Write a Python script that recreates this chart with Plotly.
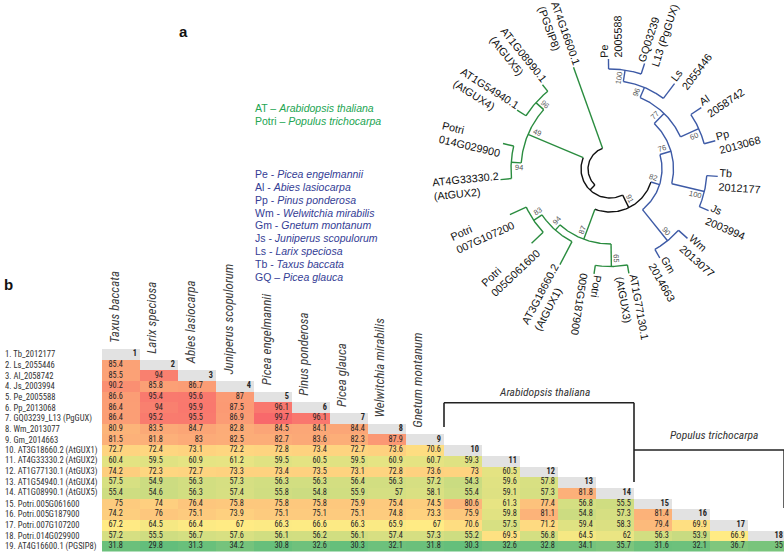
import math
import numpy as np
import plotly.graph_objects as go

W, H = 784, 552

# ---------------- panel b : identity matrix data ----------------
row_labels = ["1. Tb_2012177", "2. Ls_2055446", "3. Al_2058742", "4. Js_2003994",
              "5. Pe_2005588", "6. Pp_2013068", "7. GQ03239_L13 (PgGUX)", "8. Wm_2013077",
              "9. Gm_2014663", "10. AT3G18660.2 (AtGUX1)", "11. AT4G33330.2 (AtGUX2)",
              "12. AT1G77130.1 (AtGUX3)", "13. AT1G54940.1 (AtGUX4)", "14. AT1G08990.1 (AtGUX5)",
              "15. Potri.005G061600", "16. Potri.005G187900", "17. Potri.007G107200",
              "18. Potri.014G029900", "19. AT4G16600.1 (PGSIP8)"]
col_headers = ["Taxus baccata", "Larix speciosa", "Abies lasiocarpa", "Juniperus scopulorum",
               "Picea engelmannii", "Pinus ponderosa", "Picea glauca", "Welwitchia mirabilis",
               "Gnetum montanum"]
identity = [
    [],
    [85.4],
    [85.5, 94],
    [90.2, 85.8, 86.7],
    [86.6, 95.4, 95.6, 87],
    [86.4, 94, 95.9, 87.5, 96.1],
    [86.4, 95.2, 95.5, 86.9, 99.7, 96.1],
    [80.9, 83.5, 84.7, 82.8, 84.5, 84.1, 84.4],
    [81.5, 81.8, 83, 82.5, 82.7, 83.6, 82.3, 87.9],
    [72.7, 72.4, 73.1, 72.2, 72.8, 73.4, 72.7, 73.6, 70.6],
    [60.4, 59.5, 60.9, 61.2, 59.5, 60.5, 59.5, 60.9, 60.7, 59.3],
    [74.2, 72.3, 72.7, 73.3, 73.4, 73.5, 73.1, 72.8, 73.6, 73, 60.5],
    [57.5, 54.9, 56.3, 57.3, 56.3, 56.3, 56.4, 56.3, 57.2, 54.3, 59.6, 57.8],
    [55.4, 54.6, 56.3, 57.4, 55.8, 54.8, 55.9, 57, 58.1, 55.4, 59.1, 57.3, 81.8],
    [75, 74, 76.4, 75.8, 75.8, 75.8, 75.9, 75.4, 74.5, 80.6, 61.3, 77.4, 56.8, 55.5],
    [74.2, 76, 75.1, 73.9, 75.1, 75.1, 75.1, 74.8, 73.3, 75.9, 59.8, 81.1, 54.8, 57.3, 81.4],
    [67.2, 64.5, 66.4, 67, 66.3, 66.6, 66.3, 65.9, 67, 70.6, 57.5, 71.2, 59.4, 58.3, 79.4, 69.9],
    [57.2, 55.5, 56.7, 57.6, 56.1, 56.2, 56.1, 57.4, 57.3, 55.2, 69.5, 56.8, 64.5, 62, 56.3, 53.9, 66.9],
    [31.8, 29.8, 31.3, 34.2, 30.8, 32.6, 30.3, 32.1, 31.8, 30.3, 32.6, 32.8, 34.1, 35.7, 31.6, 32.1, 36.7, 35],
]
group_labels = ["Arabidopsis thaliana", "Populus trichocarpa"]

# ---------------- panel a : tree data ----------------
leaf_order = ["Pe", "GQ", "Ls", "Al", "Pp", "Tb", "Js", "Wm", "Gm", "AtGUX3", "P187900",
              "AtGUX1", "P061600", "P007", "AtGUX2", "P014", "AtGUX4", "AtGUX5", "PGSIP8"]
leaf_text = {
    "Pe": "Pe<br>2005588", "GQ": "GQ03239<br>L13 (PgGUX)", "Ls": "Ls<br>2055446",
    "Al": "Al<br>2058742", "Pp": "Pp<br>2013068", "Tb": "Tb<br>2012177", "Js": "Js<br>2003994",
    "Wm": "Wm<br>2013077", "Gm": "Gm<br>2014663", "AtGUX3": "AT1G77130.1<br>(AtGUX3)",
    "P187900": "Potri<br>005G187900", "AtGUX1": "AT3G18660.2<br>(AtGUX1)",
    "P061600": "Potri<br>005G061600", "P007": "Potri<br>007G107200",
    "AtGUX2": "AT4G33330.2<br>(AtGUX2)", "P014": "Potri<br>014G029900",
    "AtGUX4": "AT1G54940.1<br>(AtGUX4)", "AtGUX5": "AT1G08990.1<br>(AtGUX5)",
    "PGSIP8": "AT4G16600.1<br>(PGSIP8)",
}
tree_children = {
    "root": ["rest", "PGSIP8"], "rest": ["n49", "n91"],
    "n49": ["n94l", "n96c"], "n94l": ["AtGUX2", "P014"], "n96c": ["AtGUX4", "AtGUX5"],
    "n91": ["n82", "n87"],
    "n87": ["n65", "n94g"], "n65": ["AtGUX3", "P187900"], "n94g": ["AtGUX1", "n83"],
    "n83": ["P061600", "P007"],
    "n82": ["n76", "n90"], "n90": ["Wm", "Gm"], "n76": ["n77", "n100b"],
    "n100b": ["Tb", "Js"], "n77": ["n96b", "n60"], "n60": ["Al", "Pp"],
    "n96b": ["n100a", "Ls"], "n100a": ["Pe", "GQ"],
}
node_depth = {
    "root": 22, "rest": 29, "n91": 43, "n49": 89, "n94l": 99, "n96c": 99.5,
    "n82": 52, "n76": 63.5, "n77": 77.5, "n96b": 88.5, "n100a": 100, "n60": 97.5,
    "n100b": 97, "n90": 92, "n87": 75, "n94g": 82, "n83": 92, "n65": 97.5,
    "PGSIP8": 108, "AtGUX5": 108, "AtGUX4": 110, "P014": 110, "AtGUX2": 110, "P007": 110,
    "P061600": 108, "AtGUX1": 108, "P187900": 106, "AtGUX3": 106, "Gm": 102, "Wm": 104,
    "Js": 107, "Tb": 108, "Pp": 109, "Al": 110, "Ls": 107, "GQ": 111, "Pe": 110,
}
bootstrap = {"n100a": 100, "n96b": 96, "n77": 77, "n60": 60, "n76": 76, "n100b": 100,
             "n82": 82, "n90": 90, "n91": 91, "n87": 87, "n94g": 94, "n83": 83, "n65": 65,
             "n49": 49, "n94l": 94, "n96c": 96}
legend_green = [("AT", "Arabidopsis thaliana", "–"), ("Potri", "Populus trichocarpa", "–")]
legend_blue = [("Pe", "Picea engelmannii", "-"), ("Al", "Abies lasiocarpa", "-"),
               ("Pp", "Pinus ponderosa", "-"), ("Wm", "Welwitchia mirabilis", "-"),
               ("Gm", "Gnetum montanum", "-"), ("Js", "Juniperus scopulorum", "-"),
               ("Ls", "Larix speciosa", "-"), ("Tb", "Taxus baccata", "-"),
               ("GQ", "Picea glauca", "–")]

# ---------------- styling ----------------
GREEN_LINE, BLUE_LINE, BLACK = "#2a8c3f", "#3d5aa6", "#111111"
GREEN_TXT, BLUE_TXT = "#22a552", "#343d95"
clade_color = {"root": BLACK, "rest": BLACK, "n91": BLACK, "n49": GREEN_LINE,
               "n87": GREEN_LINE, "PGSIP8": GREEN_LINE, "n82": BLUE_LINE}
boot_side = {"n100b": 1, "n60": 1, "n76": -1, "n77": -1, "n96b": -1, "n100a": -1,
             "n82": -1, "n90": -1, "n91": -1, "n87": 1, "n94g": 1, "n83": 1, "n65": -1,
             "n49": 1, "n94l": -1, "n96c": 1}
# extra left padding (px) of the value text in the first, narrower-looking columns
value_pad_px = {1: 14, 2: 12, 3: 10, 4: 7}
CX, CY = 610, 169
LEAF_SIZE = 10.8
TREE_FONT = "Liberation Sans, Arial, sans-serif"
TAB_FONT = "Liberation Sans Narrow, Arial Narrow, Roboto Condensed, Liberation Sans, sans-serif"

fig = go.Figure()

# ---------- tree geometry ----------
n_leaf = len(leaf_order)
ang = {lf: -0.8 + i * 360.0 / n_leaf for i, lf in enumerate(leaf_order)}
parent = {}
for p, ch in tree_children.items():
    for c in ch:
        parent[c] = p


def angle_of(n):
    if n in ang:
        return ang[n]
    a = [angle_of(c) for c in tree_children[n]]
    ang[n] = (min(a) + max(a)) / 2
    return ang[n]


angle_of("root")


def color_of(n):
    while n not in clade_color:
        n = parent[n]
    return clade_color[n]


def pol(r, th):
    t = math.radians(th)
    return CX + r * math.sin(t), CY - r * math.cos(t)


segs = {BLACK: ([], []), GREEN_LINE: ([], []), BLUE_LINE: ([], [])}
for n in list(node_depth):
    col = color_of(n)
    xs, ys = segs[col]
    if n != "root":
        p0 = pol(node_depth[parent[n]], ang[n])
        p1 = pol(node_depth[n], ang[n])
        xs += [p0[0], p1[0], None]
        ys += [p0[1], p1[1], None]
    if n in tree_children:
        ca = [ang[c] for c in tree_children[n]]
        for t in np.linspace(min(ca), max(ca), 60):
            q = pol(node_depth[n], t)
            xs.append(q[0]); ys.append(q[1])
        xs.append(None); ys.append(None)
for col, (xs, ys) in segs.items():
    fig.add_trace(go.Scatter(x=xs, y=ys, mode="lines", line=dict(color=col, width=1.4),
                             hoverinfo="skip", xaxis="x", yaxis="y"))


def text_w(s, size):
    w = 0
    for ch in s:
        if ch.isdigit():
            w += 0.556
        elif ch == ".":
            w += 0.278
        elif ch in "() ":
            w += 0.3
        elif ch.isupper():
            w += 0.68
        else:
            w += 0.5
    return w * size


annotations = []
for lf in leaf_order:
    th = ang[lf]
    r = node_depth[lf]
    a = th - 90 if th < 195 else th - 270
    lines = leaf_text[lf].split("<br>")
    L = max(text_w(s, LEAF_SIZE) for s in lines)
    ux, uy = math.sin(math.radians(th)), -math.cos(math.radians(th))
    dx, dy = -math.sin(math.radians(a)), math.cos(math.radians(a))
    d = r + 1.5 + L / 2
    annotations.append(dict(x=CX + d * ux + 3 * dx, y=CY + d * uy + 3 * dy, xref="x", yref="y",
                            text=leaf_text[lf], showarrow=False, textangle=a, align="left",
                            xanchor="center", yanchor="middle",
                            font=dict(family=TREE_FONT, size=LEAF_SIZE, color="#111")))
for n, v in bootstrap.items():
    th = ang[n]
    r = node_depth[n] - 8
    a = th - 90 if th < 195 else th - 270
    t = math.radians(th)
    s = boot_side[n] * 5
    x = CX + r * math.sin(t) + s * math.cos(t)
    y = CY - r * math.cos(t) + s * math.sin(t)
    annotations.append(dict(x=x, y=y, xref="x", yref="y", text=str(v), showarrow=False,
                            textangle=a, xanchor="center", yanchor="middle",
                            font=dict(family=TREE_FONT, size=7.5, color="#555")))

# legends of panel a
for i, (ab, sp, dash) in enumerate(legend_green):
    annotations.append(dict(x=253, y=108 + i * 12.5, xref="x", yref="y", xanchor="left",
                            yanchor="middle", showarrow=False,
                            text=f"{ab} {dash} <i>{sp}</i>",
                            font=dict(family=TREE_FONT, size=10.5, color=GREEN_TXT)))
for i, (ab, sp, dash) in enumerate(legend_blue):
    annotations.append(dict(x=253, y=174 + i * 12.85, xref="x", yref="y", xanchor="left",
                            yanchor="middle", showarrow=False,
                            text=f"{ab} {dash} <i>{sp}</i>",
                            font=dict(family=TREE_FONT, size=10.5, color=BLUE_TXT)))
annotations.append(dict(x=183, y=31, xref="x", yref="y", text="<b>a</b>", showarrow=False,
                        font=dict(family=TREE_FONT, size=15, color="#111")))
annotations.append(dict(x=8, y=284, xref="x", yref="y", text="<b>b</b>", showarrow=False,
                        font=dict(family=TREE_FONT, size=15, color="#111")))

# ---------- heatmap ----------
x_left = 102
nr, nc = len(row_labels), len(identity[-1])
col_w = (786 - x_left) / nc
z = np.full((nr, nc), np.nan)
zd = np.full((nr, nc), np.nan)
for i, row in enumerate(identity):
    for j, v in enumerate(row):
        z[i, j] = v
    if i < nc:
        zd[i, i] = 1
allv = np.array([v for row in identity for v in row])
zmin, zmax, zmid = allv.min(), allv.max(), np.percentile(allv, 50)
mf = (zmid - zmin) / (zmax - zmin)
cols = list(range(1, nc + 1))
rows = list(range(1, nr + 1))
fig.add_trace(go.Heatmap(z=z, x=cols, y=rows, xaxis="x2", yaxis="y2", zmin=zmin, zmax=zmax,
                         colorscale=[[0, "#63BE7B"], [mf, "#FFEB84"], [1, "#F8696B"]],
                         showscale=False, hoverinfo="skip"))
fig.add_trace(go.Heatmap(z=zd, x=cols, y=rows, xaxis="x2", yaxis="y2",
                         colorscale=[[0, "#e2e2e2"], [1, "#e2e2e2"]], showscale=False,
                         hoverinfo="skip"))
tx, ty, tt = [], [], []
for i, row in enumerate(identity):
    for j, v in enumerate(row):
        tx.append(j + 1 + 0.42 - value_pad_px.get(j + 1, 0) / col_w)
        ty.append(i + 1); tt.append(f"{v:g}")
    if i < nc:
        tx.append(i + 1 + 0.42); ty.append(i + 1); tt.append(f"<b>{i + 1}</b>")
fig.add_trace(go.Scatter(x=tx, y=ty, text=tt, mode="text", textposition="middle left",
                         textfont=dict(family=TAB_FONT, size=8.3, color="#262626"),
                         xaxis="x2", yaxis="y2", hoverinfo="skip"))
for i, lab in enumerate(row_labels):
    annotations.append(dict(x=3 / W, y=i + 1, xref="paper", yref="y2", text=lab,
                            showarrow=False, xanchor="left", yanchor="middle",
                            font=dict(family=TAB_FONT, size=8.6, color="#333")))
for j, lab in enumerate(col_headers):
    annotations.append(dict(x=j + 1, y=j + 0.5, xref="x2", yref="y2", text=f"<i>{lab}</i>",
                            showarrow=False, textangle=-90, xanchor="center", yanchor="bottom",
                            yshift=4, xshift=-7,
                            font=dict(family=TAB_FONT, size=13, color="#404040")))
annotations.append(dict(x=12.15, y=392, xref="x2", yref="y", text=f"<i>{group_labels[0]}</i>",
                        showarrow=False, font=dict(family=TAB_FONT, size=11.5, color="#333")))
annotations.append(dict(x=16.6, y=435, xref="x2", yref="y", text=f"<i>{group_labels[1]}</i>",
                        showarrow=False, font=dict(family=TAB_FONT, size=11.5, color="#333")))

shapes = [
    dict(type="line", xref="x2", yref="y", x0=9.5, x1=9.5, y0=427, y1=402.7,
         line=dict(color="#222", width=1.6)),
    dict(type="line", xref="x2", yref="y", x0=9.5, x1=14.5, y0=402.7, y1=402.7,
         line=dict(color="#222", width=1.6)),
    dict(type="line", xref="x2", yref="y", x0=14.5, x1=14.5, y0=402.7, y1=482,
         line=dict(color="#222", width=1.6)),
    dict(type="line", xref="x2", yref="y", x0=14.5, x1=18.45, y0=450, y1=450,
         line=dict(color="#222", width=1.6)),
    dict(type="line", xref="x2", yref="y", x0=18.45, x1=18.45, y0=450, y1=508,
         line=dict(color="#222", width=1.6)),
]

fig.update_layout(
    width=W, height=H, margin=dict(l=0, r=0, t=0, b=0),
    paper_bgcolor="white", plot_bgcolor="rgba(0,0,0,0)", showlegend=False,
    xaxis=dict(domain=[0, 1], range=[0, W], visible=False, fixedrange=True),
    yaxis=dict(domain=[0, 1], range=[H, 0], visible=False, fixedrange=True),
    xaxis2=dict(domain=[x_left / W, 1], range=[0.5, 0.5 + (W - x_left) / col_w],
                visible=False, anchor="y2", fixedrange=True),
    yaxis2=dict(domain=[1 - 551.5 / H, 1 - 349 / H], range=[nr + 0.5, 0.5], visible=False,
                anchor="x2", fixedrange=True),
    annotations=annotations, shapes=shapes,
)
fig.write_html("out.html", config={"displayModeBar": False},
               post_script="document.body.style.margin='0';"
                           "document.body.style.overflow='hidden';")
